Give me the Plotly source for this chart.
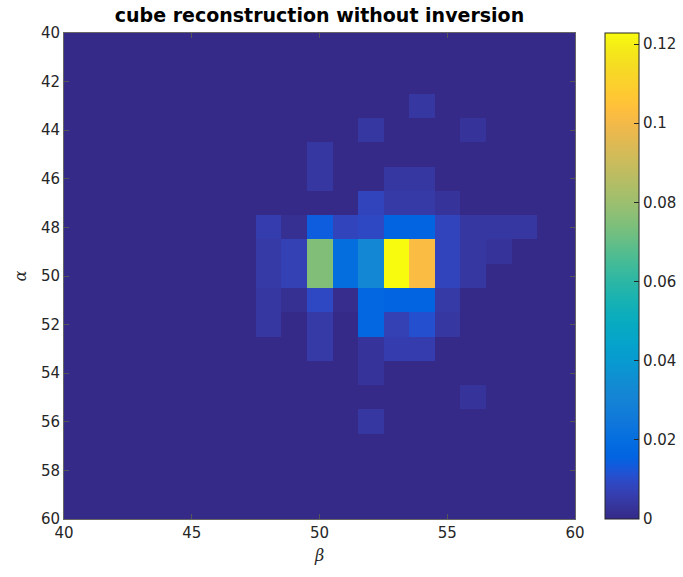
import plotly.graph_objects as go

# ---- data ----
beta = list(range(40, 61))    # x (β)
alpha = list(range(40, 61))   # y (α)

# non-zero cells: (alpha, beta, value)
cell_alpha = [43, 44, 44, 45, 46, 46, 46,
              47, 47, 47, 47,
              48, 48, 48, 48, 48, 48, 48, 48, 48, 48, 48,
              49, 49, 49, 49, 49, 49, 49, 49, 49, 49,
              50, 50, 50, 50, 50, 50, 50, 50, 50,
              51, 51, 51, 51, 51, 51, 51, 51,
              52, 52, 52, 52, 52, 52,
              53, 53, 53, 53, 54, 55, 56]
cell_beta = [54, 52, 56, 50, 50, 53, 54,
             52, 53, 54, 55,
             48, 49, 50, 51, 52, 53, 54, 55, 56, 57, 58,
             48, 49, 50, 51, 52, 53, 54, 55, 56, 57,
             48, 49, 50, 51, 52, 53, 54, 55, 56,
             48, 49, 50, 51, 52, 53, 54, 55,
             48, 50, 52, 53, 54, 55,
             50, 52, 53, 54, 52, 56, 52]
cell_value = [0.004, 0.004, 0.003, 0.004, 0.004, 0.004, 0.004,
              0.008, 0.005, 0.005, 0.003,
              0.006, 0.002, 0.014, 0.008, 0.009, 0.016, 0.016, 0.008, 0.004, 0.004, 0.004,
              0.005, 0.007, 0.075, 0.020, 0.032, 0.1228, 0.102, 0.008, 0.004, 0.003,
              0.005, 0.007, 0.075, 0.020, 0.032, 0.1228, 0.102, 0.008, 0.004,
              0.004, 0.002, 0.009, 0.001, 0.017, 0.016, 0.016, 0.005,
              0.004, 0.005, 0.017, 0.007, 0.011, 0.004,
              0.005, 0.003, 0.006, 0.006, 0.003, 0.003, 0.004]

cbar_ticks = [0, 0.02, 0.04, 0.06, 0.08, 0.1, 0.12]
x_ticks = [40, 45, 50, 55, 60]
y_ticks = list(range(40, 61, 2))

# build matrix
z = [[0.0 for _ in beta] for _ in alpha]
for a, b, v in zip(cell_alpha, cell_beta, cell_value):
    z[alpha.index(a)][beta.index(b)] = v

# parula colormap
parula = [
    (0.2081, 0.1663, 0.5292), (0.2116, 0.1898, 0.5777), (0.2123, 0.2138, 0.6270), (0.2081, 0.2386, 0.6771),
    (0.1959, 0.2645, 0.7279), (0.1707, 0.2919, 0.7792), (0.1253, 0.3242, 0.8303), (0.0591, 0.3598, 0.8683),
    (0.0117, 0.3875, 0.8820), (0.0060, 0.4086, 0.8828), (0.0165, 0.4266, 0.8786), (0.0329, 0.4430, 0.8720),
    (0.0498, 0.4586, 0.8641), (0.0629, 0.4737, 0.8554), (0.0723, 0.4887, 0.8467), (0.0779, 0.5040, 0.8384),
    (0.0793, 0.5200, 0.8312), (0.0749, 0.5375, 0.8263), (0.0641, 0.5570, 0.8240), (0.0488, 0.5772, 0.8228),
    (0.0343, 0.5966, 0.8199), (0.0265, 0.6137, 0.8135), (0.0239, 0.6287, 0.8038), (0.0231, 0.6418, 0.7913),
    (0.0228, 0.6535, 0.7768), (0.0267, 0.6642, 0.7607), (0.0384, 0.6743, 0.7436), (0.0590, 0.6838, 0.7254),
    (0.0843, 0.6928, 0.7062), (0.1133, 0.7015, 0.6859), (0.1453, 0.7098, 0.6646), (0.1801, 0.7177, 0.6424),
    (0.2178, 0.7250, 0.6193), (0.2586, 0.7317, 0.5954), (0.3022, 0.7376, 0.5712), (0.3482, 0.7424, 0.5473),
    (0.3953, 0.7459, 0.5244), (0.4420, 0.7481, 0.5033), (0.4871, 0.7491, 0.4840), (0.5300, 0.7491, 0.4661),
    (0.5709, 0.7485, 0.4494), (0.6099, 0.7473, 0.4337), (0.6473, 0.7456, 0.4188), (0.6834, 0.7435, 0.4044),
    (0.7184, 0.7411, 0.3905), (0.7525, 0.7384, 0.3768), (0.7858, 0.7356, 0.3633), (0.8185, 0.7327, 0.3498),
    (0.8507, 0.7299, 0.3360), (0.8824, 0.7274, 0.3217), (0.9139, 0.7258, 0.3063), (0.9450, 0.7261, 0.2886),
    (0.9739, 0.7314, 0.2666), (0.9938, 0.7455, 0.2403), (0.9990, 0.7653, 0.2164), (0.9955, 0.7861, 0.1967),
    (0.9880, 0.8066, 0.1794), (0.9789, 0.8271, 0.1633), (0.9697, 0.8481, 0.1475), (0.9626, 0.8705, 0.1309),
    (0.9589, 0.8949, 0.1132), (0.9598, 0.9218, 0.0948), (0.9661, 0.9514, 0.0755), (0.9763, 0.9831, 0.0538),
]
n = len(parula)
colorscale = [[i / (n - 1), "rgb(%d,%d,%d)" % tuple(round(c * 255) for c in rgb)] for i, rgb in enumerate(parula)]

W, H = 683, 577
L, R, T, B = 64, 575, 33, 519

fig = go.Figure(go.Heatmap(
    x=beta, y=alpha, z=z,
    colorscale=colorscale,
    zmin=0,
    zmax=max(cell_value),
    colorbar=dict(
        x=(605 - L) / (R - L), xanchor="left", xref="paper",
        y=0.5, yanchor="middle", len=1.0, lenmode="fraction",
        thickness=34, thicknessmode="pixels",
        outlinecolor="#262626", outlinewidth=1,
        tickvals=cbar_ticks, ticktext=[str(t) for t in cbar_ticks],
        ticks="inside", ticklen=5, tickcolor="#262626",
        tickfont=dict(family="DejaVu Sans", size=15, color="#262626"),
        ypad=0, xpad=0,
    ),
    hoverinfo="skip",
))

axis_common = dict(
    ticks="inside", ticklen=5, tickcolor="#555555", tickwidth=1,
    showgrid=False, zeroline=False,
    showline=True, linecolor="#666666", linewidth=1, mirror="ticks",
    tickfont=dict(family="DejaVu Sans", size=15, color="#262626"),
)

fig.update_layout(
    width=W, height=H,
    margin=dict(l=L, r=W - R, t=T, b=H - B, autoexpand=False),
    paper_bgcolor="white", plot_bgcolor="white",
    title=dict(text="<b>cube reconstruction without inversion</b>",
               x=(L + R) / 2 / W, xanchor="center", y=1 - 15 / H, yanchor="middle",
               font=dict(family="DejaVu Sans", size=19, color="#000000")),
    xaxis=dict(range=[40, 60], tickvals=x_ticks, title=dict(text="<i>β</i>", standoff=8,
               font=dict(family="DejaVu Serif", size=16, color="#262626")), **axis_common),
    yaxis=dict(range=[60, 40], tickvals=y_ticks, title=dict(text="<i>α</i>", standoff=10,
               font=dict(family="DejaVu Serif", size=16, color="#262626")), **axis_common),
)

fig.write_html("out.html")
